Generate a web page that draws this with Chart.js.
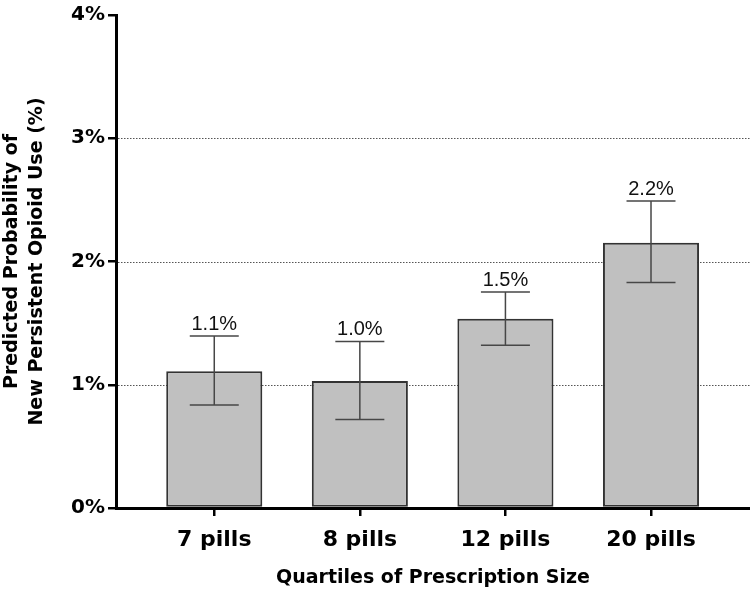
<!DOCTYPE html>
<html>
<head>
<meta charset="utf-8">
<script src="https://cdn.jsdelivr.net/npm/chart.js@4/dist/chart.umd.min.js"></script>
<style>
  html, body { margin: 0; padding: 0; background: #fff; }
  #wrap { width: 750px; height: 593px; }
</style>
</head>
<body>
<div id="wrap"><canvas id="c" width="750" height="593"></canvas></div>
<script>
const categories = ['7 pills', '8 pills', '12 pills', '20 pills'];
const values = [1.11, 1.03, 1.535, 2.153];
const lowerCI = [0.836, 0.718, 1.32, 1.83];
const upperCI = [1.395, 1.35, 1.752, 2.49];
const valueLabels = ['1.1%', '1.0%', '1.5%', '2.2%'];
const yTicks = [0, 1, 2, 3, 4];
const gridValues = [1, 2, 3];

Chart.defaults.font.family = "'DejaVu Sans', sans-serif";
Chart.defaults.color = '#000';

const overlay = {
  id: 'overlay',
  beforeDatasetsDraw(chart) {
    const ctx = chart.ctx, y = chart.scales.y, a = chart.chartArea;
    ctx.save();
    ctx.strokeStyle = '#555';
    ctx.lineWidth = 1;
    ctx.setLineDash([1.5, 1.5]);
    gridValues.forEach(v => {
      const py = Math.round(y.getPixelForValue(v)) + 0.5;
      ctx.beginPath();
      ctx.moveTo(a.left + 2, py);
      ctx.lineTo(a.right, py);
      ctx.stroke();
    });
    ctx.restore();
  },
  afterDatasetsDraw(chart) {
    const ctx = chart.ctx, x = chart.scales.x, y = chart.scales.y;
    ctx.save();
    ctx.strokeStyle = '#474747';
    ctx.lineWidth = 1.5;
    categories.forEach((c, i) => {
      const px = x.getPixelForValue(i);
      const lo = y.getPixelForValue(lowerCI[i]);
      const hi = y.getPixelForValue(upperCI[i]);
      ctx.beginPath();
      ctx.moveTo(px, lo); ctx.lineTo(px, hi);
      ctx.moveTo(px - 24.5, lo); ctx.lineTo(px + 24.5, lo);
      ctx.moveTo(px - 24.5, hi); ctx.lineTo(px + 24.5, hi);
      ctx.stroke();
      ctx.fillStyle = '#111';
      ctx.font = "20px 'Liberation Sans', Arial, sans-serif";
      ctx.textAlign = 'center';
      ctx.textBaseline = 'alphabetic';
      ctx.fillText(valueLabels[i], px, hi - 6.5);
    });
    ctx.restore();
  }
};

new Chart(document.getElementById('c'), {
  type: 'bar',
  data: {
    datasets: [{
      data: categories.map((c, i) => ({ x: i, y: values[i] })),
      backgroundColor: '#c0c0c0',
      borderColor: '#333',
      borderWidth: 2,
      borderSkipped: false,
      barPercentage: 0.66,
      categoryPercentage: 1
    }]
  },
  options: {
    responsive: false,
    devicePixelRatio: 1,
    animation: false,
    layout: { padding: { top: 12, right: 0, bottom: 0, left: 0 } },
    plugins: { legend: { display: false }, tooltip: { enabled: false } },
    scales: {
      x: {
        type: 'linear',
        min: -0.675,
        max: 3.68,
        offset: false,
        afterBuildTicks: s => { s.ticks = categories.map((c, i) => ({ value: i })); },
        afterFit: s => { s.height = 85; },
        grid: { display: true, offset: false, drawOnChartArea: false, drawTicks: true, tickLength: 8, color: '#000', lineWidth: 2.5 },
        border: { display: true, color: '#000', width: 3 },
        ticks: {
          autoSkip: false, maxRotation: 0, padding: 11,
          font: { size: 22, weight: 'bold' }, color: '#000',
          callback: v => categories[v]
        },
        title: {
          display: true, text: 'Quartiles of Prescription Size',
          font: { size: 19, weight: 'bold', lineHeight: 1.2 }, color: '#000',
          padding: { top: 0, bottom: 4 }
        }
      },
      y: {
        min: 0, max: 4,
        afterBuildTicks: s => { s.ticks = yTicks.map(v => ({ value: v })); },
        afterFit: s => { s.width = 116; },
        grid: { display: true, drawOnChartArea: false, drawTicks: true, tickLength: 8, color: '#000', lineWidth: 2.5 },
        border: { display: true, color: '#000', width: 3 },
        ticks: {
          padding: 3, font: { size: 20, weight: 'bold' }, color: '#000',
          callback: v => v + '%'
        },
        title: {
          display: true,
          text: ['Predicted Probability of', 'New Persistent Opioid Use (%)'],
          font: { size: 19, weight: 'bold', lineHeight: 1.3 }, color: '#000',
          padding: { top: 0, bottom: 0 }
        }
      }
    }
  },
  plugins: [overlay]
});
</script>
</body>
</html>
